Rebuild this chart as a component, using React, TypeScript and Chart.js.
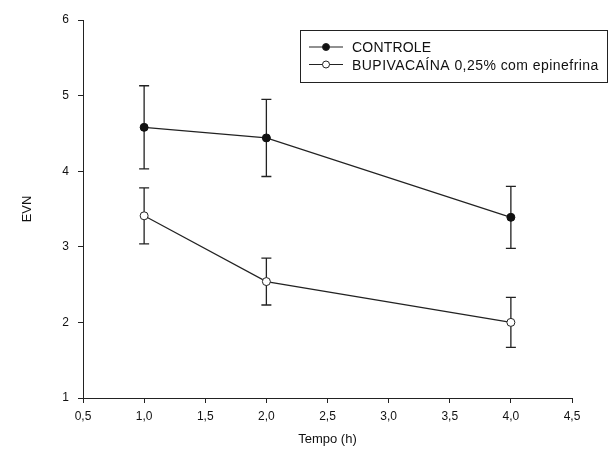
import React, { useEffect, useRef } from "react";
import { Chart, registerables } from "chart.js";

Chart.register(...registerables);

const times = [1, 2, 4];
const controleMean = [4.58, 4.44, 3.39];
const controleErr = [0.55, 0.51, 0.41];
const bupiMean = [3.41, 2.54, 2.0];
const bupiErr = [0.37, 0.31, 0.33];
const seriesLabels = ["CONTROLE", "BUPIVACAÍNA 0,25% com epinefrina"];
const xTitle = "Tempo (h)";
const yTitle = "EVN";

const FONT = "'Liberation Sans', Arial, sans-serif";

const errorBarPlugin = {
  id: "errorBars",
  beforeDatasetsDraw(chart: any) {
    const ctx = chart.ctx;
    const ys = chart.scales.y;
    const errs = [controleErr, bupiErr];
    chart.data.datasets.forEach((ds: any, di: number) => {
      const meta = chart.getDatasetMeta(di);
      meta.data.forEach((pt: any, i: number) => {
        const v = ds.data[i].y;
        const e = errs[di][i];
        const yt = ys.getPixelForValue(v + e);
        const yb = ys.getPixelForValue(v - e);
        const x = pt.x;
        ctx.save();
        ctx.strokeStyle = "#222";
        ctx.lineWidth = 1.3;
        ctx.beginPath();
        ctx.moveTo(x, yt);
        ctx.lineTo(x, yb);
        ctx.moveTo(x - 5, yt);
        ctx.lineTo(x + 5, yt);
        ctx.moveTo(x - 5, yb);
        ctx.lineTo(x + 5, yb);
        ctx.stroke();
        ctx.restore();
      });
    });
  },
};

const legendBoxPlugin = {
  id: "legendBox",
  afterDraw(chart: any) {
    const ctx = chart.ctx;
    ctx.save();
    ctx.strokeStyle = "#222";
    ctx.lineWidth = 1;
    ctx.strokeRect(300.5, 30.5, 307, 52);
    const rows = [47, 64.5];
    const textRows = [48, 66];
    rows.forEach((y, i) => {
      ctx.strokeStyle = "#222";
      ctx.lineWidth = 1.2;
      ctx.beginPath();
      ctx.moveTo(309, y);
      ctx.lineTo(343, y);
      ctx.stroke();
      ctx.beginPath();
      ctx.arc(326, y, 3.5, 0, Math.PI * 2);
      ctx.fillStyle = i === 0 ? "#111" : "#fff";
      ctx.fill();
      ctx.lineWidth = 1;
      ctx.stroke();
      ctx.fillStyle = "#111";
      ctx.font = `14px ${FONT}`;
      try {
        (ctx as any).letterSpacing = i === 0 ? "0.2px" : "0.45px";
      } catch (e) {}
      ctx.textAlign = "left";
      ctx.textBaseline = "middle";
      ctx.fillText(seriesLabels[i], 352, textRows[i]);
    });
    ctx.restore();
  },
};

export default function App() {
  const ref = useRef<HTMLCanvasElement>(null);
  useEffect(() => {
    if (!ref.current) return;
    const chart = new Chart(ref.current, {
      type: "line",
      data: {
        datasets: [
          {
            label: seriesLabels[0],
            data: times.map((t, i) => ({ x: t, y: controleMean[i] })),
            borderColor: "#222",
            borderWidth: 1.2,
            pointRadius: 4,
            pointBackgroundColor: "#111",
            pointBorderColor: "#111",
            pointBorderWidth: 1,
            fill: false,
            tension: 0,
          },
          {
            label: seriesLabels[1],
            data: times.map((t, i) => ({ x: t, y: bupiMean[i] })),
            borderColor: "#222",
            borderWidth: 1.2,
            pointRadius: 4,
            pointBackgroundColor: "#fff",
            pointBorderColor: "#222",
            pointBorderWidth: 1,
            fill: false,
            tension: 0,
          },
        ],
      },
      options: {
        animation: false,
        responsive: false,
        maintainAspectRatio: false,
        layout: { padding: { top: 20, right: 44, left: 0, bottom: 0 } },
        plugins: {
          legend: { display: false },
          tooltip: { enabled: false },
        },
        scales: {
          x: {
            type: "linear",
            min: 0.5,
            max: 4.5,
            ticks: {
              stepSize: 0.5,
              color: "#111",
              font: { family: FONT, size: 12 },
              padding: 6,
              maxRotation: 0,
              callback: (v: any) => Number(v).toFixed(1).replace(".", ","),
            },
            grid: {
              display: true,
              drawOnChartArea: false,
              drawTicks: true,
              tickLength: 5,
              color: "#222",
            },
            border: { display: true, color: "#222", width: 1 },
            title: {
              display: true,
              text: xTitle,
              color: "#111",
              font: { family: FONT, size: 13 },
              padding: { top: 0, bottom: 12 },
            },
            afterFit: (s: any) => {
              s.height = 61;
            },
          },
          y: {
            type: "linear",
            min: 1,
            max: 6,
            ticks: {
              stepSize: 1,
              color: "#111",
              font: { family: FONT, size: 12 },
              padding: 9,
            },
            grid: {
              display: true,
              drawOnChartArea: false,
              drawTicks: true,
              tickLength: 5,
              color: "#222",
            },
            border: { display: true, color: "#222", width: 1 },
            title: {
              display: true,
              text: yTitle,
              color: "#111",
              font: { family: FONT, size: 13 },
              padding: { top: 20, bottom: 0 },
            },
            afterFit: (s: any) => {
              s.width = 83;
            },
          },
        },
      },
      plugins: [errorBarPlugin, legendBoxPlugin],
    });
    return () => chart.destroy();
  }, []);
  return (
    <div style={{ position: "fixed", left: 0, top: 0, width: 616, height: 459, background: "#fff" }}>
      <canvas ref={ref} width={616} height={459} style={{ width: 616, height: 459, display: "block" }} />
    </div>
  );
}
